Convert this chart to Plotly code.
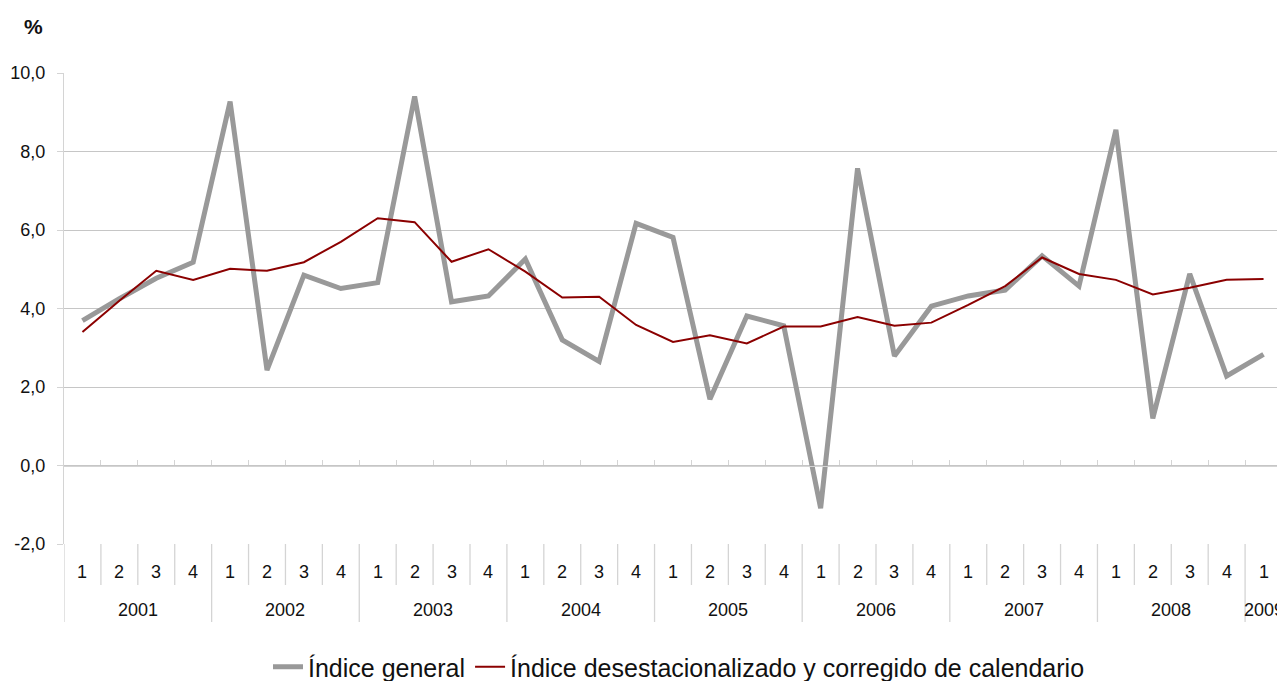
import plotly.graph_objects as go

# ---------------- data ----------------
quarters = ["1", "2", "3", "4", "1", "2", "3", "4", "1", "2", "3", "4",
            "1", "2", "3", "4", "1", "2", "3", "4", "1", "2", "3", "4",
            "1", "2", "3", "4", "1", "2", "3", "4", "1"]
years = ["2001", "2002", "2003", "2004", "2005", "2006", "2007", "2008", "2009"]
quarters_per_year = [4, 4, 4, 4, 4, 4, 4, 4, 1]

indice_general = [3.69, 4.25, 4.77, 5.18, 9.27, 2.43, 4.85, 4.51, 4.66, 9.40, 4.17,
                  4.32, 5.26, 3.20, 2.65, 6.17, 5.81, 1.69, 3.81, 3.56, -1.09, 7.57,
                  2.79, 4.06, 4.32, 4.47, 5.34, 4.57, 8.55, 1.20, 4.88, 2.28, 2.83]
indice_desest = [3.40, 4.20, 4.96, 4.73, 5.01, 4.96, 5.18, 5.70, 6.30, 6.20, 5.19,
                 5.51, 4.94, 4.28, 4.30, 3.58, 3.15, 3.32, 3.11, 3.54, 3.54, 3.78,
                 3.56, 3.64, 4.09, 4.57, 5.30, 4.88, 4.73, 4.36, 4.53, 4.73, 4.75]

name_general = "Índice general"
name_desest = "Índice desestacionalizado y corregido de calendario"
y_ticks = [-2, 0, 2, 4, 6, 8, 10]
y_ticktext = [f"{v:.1f}".replace(".", ",") for v in y_ticks]

# ---------------- layout constants ----------------
# the page body has an 8px margin, so the figure is shifted by 8px
OFF = 8
W, H = 1285 - OFF, 681 - OFF
M_L, M_R, M_T, M_B = 64 - OFF, 3, 73 - OFF, 137
PLOT_H = H - M_T - M_B
PLOT_W = W - M_L - M_R
Y_MIN, Y_MAX = y_ticks[0], y_ticks[-1]
FONT = "Liberation Sans, Arial, sans-serif"
LINE_C = "#d4d4d4"
GRID_C = "#c6c6c6"
TXT_C = "#111111"
TICK_SIZE = 18

n = len(quarters)
x = list(range(n))

fig = go.Figure()
fig.add_trace(go.Scatter(x=x, y=indice_general, mode="lines", name=name_general,
                         line=dict(color="#999999", width=5)))
fig.add_trace(go.Scatter(x=x, y=indice_desest, mode="lines", name=name_desest,
                         line=dict(color="#8B0000", width=2)))


def py(px):
    return -px / PLOT_H


year_bounds = [-0.5]
acc = 0
for q in quarters_per_year:
    acc += q
    year_bounds.append(acc - 0.5)

shapes = []
for i in range(n + 1):
    b = i - 0.5
    bottom = py(78) if b in year_bounds else py(41)
    shapes.append(dict(type="line", xref="x", yref="paper", x0=b, x1=b, y0=0, y1=bottom,
                       line=dict(color=LINE_C, width=1.3)))

annotations = []
for i, q in enumerate(quarters):
    annotations.append(dict(x=i, y=py(28), xref="x", yref="paper", text=q, showarrow=False,
                            xanchor="center", yanchor="middle",
                            font=dict(size=TICK_SIZE, color=TXT_C, family=FONT)))
start = 0
for yr, q in zip(years, quarters_per_year):
    annotations.append(dict(x=start + (q - 1) / 2, y=py(66), xref="x", yref="paper", text=yr,
                            showarrow=False, xanchor="center", yanchor="middle",
                            font=dict(size=TICK_SIZE, color=TXT_C, family=FONT)))
    start += q

annotations.append(dict(x=-(M_L - (33 - OFF)) / PLOT_W, y=1 + (M_T - (26 - OFF)) / PLOT_H,
                        xref="paper", yref="paper", text="<b>%</b>", showarrow=False,
                        xanchor="center", yanchor="middle",
                        font=dict(size=21, color=TXT_C, family=FONT)))

fig.update_layout(
    width=W, height=H,
    margin=dict(l=M_L, r=M_R, t=M_T, b=M_B, autoexpand=False),
    paper_bgcolor="white", plot_bgcolor="white",
    separators=",.",
    font=dict(family=FONT, color=TXT_C),
    xaxis=dict(range=[-0.5, n - 0.5], anchor="free",
               position=(0 - Y_MIN) / (Y_MAX - Y_MIN),
               showline=True, linecolor=LINE_C, linewidth=1.3,
               tickmode="array", tickvals=[i + 0.5 for i in range(n)],
               ticks="inside", ticklen=5, tickcolor=LINE_C, tickwidth=1.3,
               showticklabels=False, showgrid=False, zeroline=False),
    yaxis=dict(range=[Y_MIN, Y_MAX], tickmode="array", tickvals=y_ticks,
               ticktext=y_ticktext, showgrid=True, gridcolor=GRID_C, gridwidth=1,
               showline=True, linecolor=LINE_C, linewidth=1.3,
               ticks="outside", ticklen=6, tickcolor=LINE_C, tickwidth=1.3,
               zeroline=False, ticklabelstandoff=8,
               tickfont=dict(size=TICK_SIZE, color=TXT_C, family=FONT)),
    legend=dict(orientation="h", x=(679 - OFF) / W, xanchor="center", xref="container",
                y=py(H + 9 - (H - M_B)), yanchor="bottom", yref="paper",
                font=dict(size=25, color=TXT_C, family=FONT),
                bgcolor="rgba(0,0,0,0)", itemwidth=30),
    shapes=shapes,
    annotations=annotations,
    showlegend=True,
)

fig.write_html("out.html")
